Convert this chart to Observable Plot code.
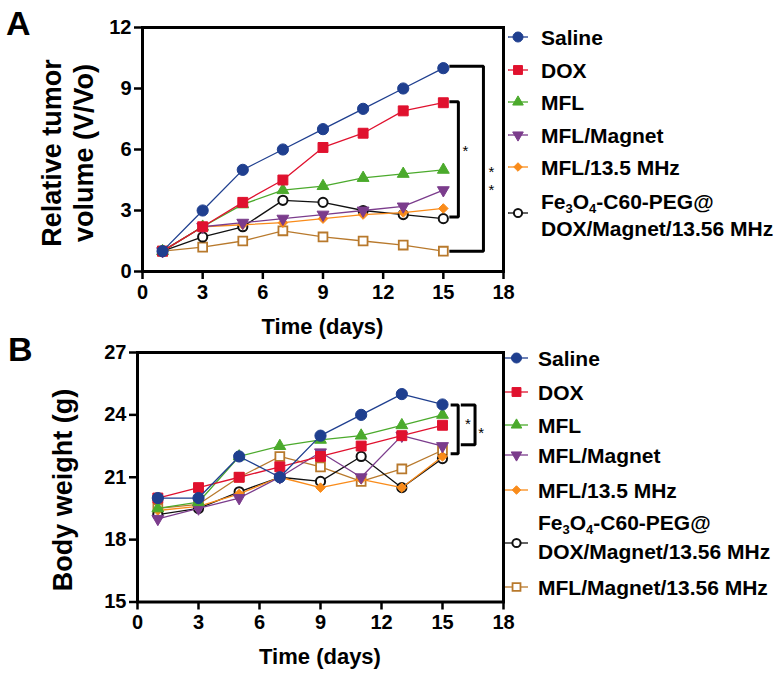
<!DOCTYPE html>
<html><head><meta charset="utf-8">
<script src="https://cdn.jsdelivr.net/npm/d3@7"></script>
<script src="https://cdn.jsdelivr.net/npm/@observablehq/plot@0.6"></script>
<style>
body{margin:0;background:#fff}
#chart svg{display:block;overflow:visible}
</style>
</head><body><div id="chart"></div>
<script>
// ---------- data ----------
const days = [1, 3, 5, 7, 9, 11, 13, 15];
const xTicks = [0, 3, 6, 9, 12, 15, 18];
const yTicksA = [0, 3, 6, 9, 12];
const yTicksB = [15, 18, 21, 24, 27];
const groups = ["Saline", "DOX", "MFL", "MFL/Magnet", "MFL/13.5 MHz",
  "Fe3O4-C60-PEG@DOX/Magnet/13.56 MHz", "MFL/Magnet/13.56 MHz"];

// Panel A: relative tumor volume (V/Vo)
const tumorSaline   = [1, 3.0, 5.0, 6.0, 7.0, 8.0, 9.0, 10.0];
const tumorDOX      = [1, 2.2, 3.4, 4.5, 6.1, 6.8, 7.9, 8.3];
const tumorMFL      = [1, 2.2, 3.3, 4.0, 4.2, 4.6, 4.8, 5.0];
const tumorMagnet   = [1, 2.2, 2.4, 2.6, 2.8, 3.0, 3.2, 4.0];
const tumorMHz      = [1, 2.2, 2.3, 2.4, 2.6, 2.8, 2.9, 3.1];
const tumorFe       = [1, 1.7, 2.2, 3.5, 3.4, 3.0, 2.8, 2.6];
const tumorMagMHz   = [1, 1.2, 1.5, 2.0, 1.7, 1.5, 1.3, 1.0];

// Panel B: body weight (g)
const weightSaline  = [20.0, 20.0, 22.0, 21.0, 23.0, 24.0, 25.0, 24.5];
const weightDOX     = [20.0, 20.5, 21.0, 21.5, 22.0, 22.5, 23.0, 23.5];
const weightMFL     = [19.5, 19.8, 22.0, 22.5, 22.8, 23.0, 23.5, 24.0];
const weightMagnet  = [19.0, 19.5, 20.0, 21.0, 22.2, 21.0, 23.0, 22.5];
const weightMHz     = [19.4, 19.6, 20.2, 21.0, 20.5, 20.9, 20.5, 22.0];
const weightFe      = [19.2, 19.5, 20.3, 21.0, 20.8, 22.0, 20.5, 21.9];
const weightMagMHz  = [19.5, 19.7, 21.0, 22.0, 21.5, 20.8, 21.4, 22.3];

// significance brackets (data units)
const bracketA = [
  [{x: 15.3, y: 10.1}, {x: 17.0, y: 10.1}, {x: 17.0, y: 1.0}, {x: 15.3, y: 1.0}],
  [{x: 15.3, y: 8.35}, {x: 15.75, y: 8.35}, {x: 15.75, y: 2.68}, {x: 15.3, y: 2.68}]
];
const starsA = [{x: 16.1, y: 6.1}, {x: 17.4, y: 5.1}, {x: 17.4, y: 4.2}];
const bracketB = [
  [{x: 15.4, y: 24.48}, {x: 15.77, y: 24.48}, {x: 15.77, y: 22.13}, {x: 15.4, y: 22.13}],
  [{x: 15.9, y: 24.48}, {x: 16.6, y: 24.48}, {x: 16.6, y: 22.56}, {x: 15.9, y: 22.56}]
];
const starsB = [{x: 16.25, y: 23.73}, {x: 16.9, y: 23.33}];

// ---------- styles ----------
const triDown = {draw(ctx, size) {
  const y = Math.sqrt(size / (Math.sqrt(3) * 3));
  ctx.moveTo(0, 2 * y); ctx.lineTo(-Math.sqrt(3) * y, -y); ctx.lineTo(Math.sqrt(3) * y, -y); ctx.closePath();
}};
const styles = [
  {color: "#1F3F8F", symbol: d3.symbolCircle, r: 5.6, fill: "#1F3F8F", sw: 1},
  {color: "#E0112E", symbol: d3.symbolSquare, r: 5.6, fill: "#E0112E", sw: 1},
  {color: "#4BAA2C", symbol: d3.symbolTriangle, r: 4.4, fill: "#4BAA2C", sw: 1},
  {color: "#7B3C8C", symbol: triDown, r: 4.4, fill: "#7B3C8C", sw: 1},
  {color: "#F98B1A", symbol: d3.symbolDiamond2, r: 4.3, fill: "#F98B1A", sw: 1},
  {color: "#111111", symbol: d3.symbolCircle, r: 4.6, fill: "white", sw: 2},
  {color: "#B8792C", symbol: d3.symbolSquare, r: 5.0, fill: "white", sw: 1.8}
];

function rows(list) {
  return list.flatMap((vals, i) => vals.map((v, j) => ({group: groups[i], gi: i, day: days[j], value: v})));
}
const dataA = rows([tumorSaline, tumorDOX, tumorMFL, tumorMagnet, tumorMHz, tumorFe, tumorMagMHz]);
const dataB = rows([weightSaline, weightDOX, weightMFL, weightMagnet, weightMHz, weightFe, weightMagMHz]);

const FONT = "'Liberation Sans', Arial, Helvetica, sans-serif";

function seriesMarks(data) {
  const marks = [];
  for (let i = groups.length - 1; i >= 0; i--) {
    const s = styles[i];
    const d = data.filter(r => r.gi === i);
    marks.push(Plot.line(d, {x: "day", y: "value", stroke: s.color, strokeWidth: 1.3}));
    marks.push(Plot.dot(d, {x: "day", y: "value", symbol: s.symbol, r: s.r, fill: s.fill,
      stroke: s.color, strokeWidth: s.sw}));
  }
  return marks;
}

function panel(data, yDomain, yTicks, m, height, brackets, stars) {
  return Plot.plot({
    width: 780, height,
    marginLeft: m.left, marginRight: m.right, marginTop: m.top, marginBottom: m.bottom,
    x: {domain: [0, 18], label: null},
    y: {domain: yDomain, label: null},
    style: {fontFamily: FONT, fontSize: "20px", fontWeight: "bold", color: "black", background: "white", overflow: "visible"},
    marks: [
      Plot.axisX(xTicks, {tickSize: 8, tickPadding: 5, strokeWidth: 2.5, label: null, fontSize: 20}),
      Plot.axisY(yTicks, {tickSize: 8, tickPadding: 3, strokeWidth: 2.5, label: null, fontSize: 20}),
      Plot.frame({stroke: "black", strokeWidth: 3}),
      ...seriesMarks(data),
      ...brackets.map(b => Plot.line(b, {x: "x", y: "y", stroke: "black", strokeWidth: 3, strokeLinejoin: "miter", strokeLinecap: "butt"})),
      Plot.text(stars, {x: "x", y: "y", text: () => "*", fontSize: 15, fontWeight: "normal", dy: 4, fill: "black"})
    ]
  });
}

function addText(svg, txt, x, y, size, opts = {}) {
  const t = svg.append("text").attr("x", x).attr("y", y).attr("font-size", size)
    .attr("font-weight", "bold").attr("font-family", FONT).attr("fill", "black")
    .attr("text-anchor", opts.anchor || "start").text(txt);
  if (opts.rotate) t.attr("x", 0).attr("y", 0).attr("transform", `translate(${x},${y}) rotate(-90)`);
  return t;
}

function addLegend(svg, entries, textX, lineX0, lineX1) {
  entries.forEach(e => {
    const s = styles[e.i];
    const g = svg.append("g");
    g.append("line").attr("x1", lineX0).attr("x2", lineX1).attr("y1", e.sy).attr("y2", e.sy)
      .attr("stroke", s.color).attr("stroke-width", 1.3);
    g.append("path").attr("d", d3.symbol(s.symbol, s.r * s.r * Math.PI * 0.8)())
      .attr("transform", `translate(${(lineX0 + lineX1) / 2},${e.sy})`)
      .attr("fill", s.fill).attr("stroke", s.color).attr("stroke-width", s.sw);
    if (e.fe) {
      const t1 = svg.append("text").attr("x", textX).attr("y", e.ty[0] + 7.5).attr("font-size", 21)
        .attr("font-weight", "bold").attr("font-family", FONT).attr("fill", "black")
        .attr("text-anchor", "start");
      t1.append("tspan").text("Fe");
      t1.append("tspan").attr("font-size", 13).attr("dy", 4).text("3");
      t1.append("tspan").attr("dy", -4).text("O");
      t1.append("tspan").attr("font-size", 13).attr("dy", 4).text("4");
      t1.append("tspan").attr("dy", -4).text("-C60-PEG@");
      addText(svg, "DOX/Magnet/13.56 MHz", textX, e.ty[1] + 7.5, 21);
    } else {
      addText(svg, groups[e.i], textX, e.ty[0] + 7.5, 21);
    }
  });
}

const root = d3.select("#chart");

// ---------- Panel A ----------
const hA = 332;
const svgA = panel(dataA, [0, 12], yTicksA, {left: 142, right: 277, top: 27, bottom: hA - 271}, hA, bracketA, starsA);
root.node().appendChild(svgA);
const sA = d3.select(svgA);
addText(sA, "A", 6, 35, 34);
addText(sA, "Relative tumor", 61, 153, 27, {anchor: "middle", rotate: true});
addText(sA, "volume (V/Vo)", 93, 153, 27, {anchor: "middle", rotate: true});
addText(sA, "Time (days)", 322.5, 334, 22, {anchor: "middle"});
addLegend(sA, [
  {i: 0, sy: 37, ty: [37]}, {i: 1, sy: 70, ty: [70]}, {i: 2, sy: 102, ty: [102]},
  {i: 3, sy: 135, ty: [135]}, {i: 4, sy: 167, ty: [167]}, {i: 5, sy: 213, ty: [201, 228], fe: true}
], 541, 508, 528);

// ---------- Panel B ----------
const offB = 332, hB = 676 - offB;
const svgB = panel(dataB, [15, 27], yTicksB, {left: 137, right: 277, top: 352 - offB, bottom: 676 - 601.5}, hB, bracketB, starsB);
root.node().appendChild(svgB);
const sB = d3.select(svgB);
addText(sB, "B", 8, 361 - offB, 34);
addText(sB, "Body weight (g)", 72, 490 - offB, 27, {anchor: "middle", rotate: true});
addText(sB, "Time (days)", 320, 664 - offB, 22, {anchor: "middle"});
addLegend(sB, [
  {i: 0, sy: 358 - offB, ty: [358 - offB]}, {i: 1, sy: 392 - offB, ty: [392 - offB]},
  {i: 2, sy: 425 - offB, ty: [425 - offB]}, {i: 3, sy: 455 - offB, ty: [455 - offB]},
  {i: 4, sy: 490 - offB, ty: [490 - offB]},
  {i: 5, sy: 543 - offB, ty: [522 - offB, 551 - offB], fe: true},
  {i: 6, sy: 587 - offB, ty: [587 - offB]}
], 538, 505, 528);
</script>
</body></html>
